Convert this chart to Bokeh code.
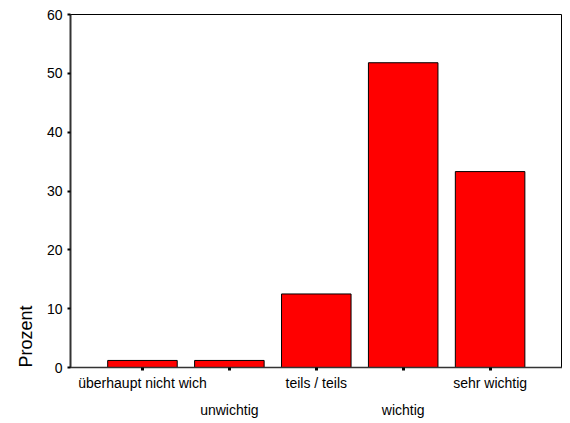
from bokeh.plotting import figure
from bokeh.models import Range1d, FixedTicker, LinearAxis, ColumnDataSource, Title
from bokeh.embed import file_html
from bokeh.resources import INLINE

categories = ["überhaupt nicht wich", "unwichtig", "teils / teils", "wichtig", "sehr wichtig"]
values = [1.2, 1.2, 12.5, 51.8, 33.3]
y_ticks = [0, 10, 20, 30, 40, 50, 60]
y_title = "Prozent"

xs = list(range(len(categories)))
src = ColumnDataSource(dict(x=xs, top=values))

FONT = "Liberation Sans"

p = figure(width=562, height=420, output_backend="svg", toolbar_location=None,
           x_range=Range1d(-0.828, 4.833), y_range=Range1d(0, 60),
           min_border_left=70, min_border_right=0, min_border_top=14, min_border_bottom=5)
p.background_fill_color = "white"
p.border_fill_color = "white"
p.outline_line_color = "black"
p.outline_line_width = 1
p.xgrid.grid_line_color = None
p.ygrid.grid_line_color = None

p.vbar(x="x", top="top", width=0.8, bottom=0, source=src,
       fill_color="#FF0000", line_color="black", line_width=1)

# y axis
ya = p.yaxis[0]
ya.ticker = FixedTicker(ticks=y_ticks)
ya.axis_line_color = "#333333"
ya.axis_line_width = 2
ya.major_tick_out = 3
ya.major_tick_in = 0
ya.major_tick_line_width = 2
ya.major_tick_line_color = "black"
ya.minor_tick_line_color = None
ya.major_label_standoff = 5
ya.major_label_text_font = FONT
ya.major_label_text_font_size = "14px"
ya.major_label_text_color = "black"

# y title sits at the low end of the axis, as in the original
yt = Title(text=y_title, align="left", offset=0, standoff=16,
           text_font=FONT, text_font_size="18px", text_font_style="normal",
           text_color="black")
p.add_layout(yt, "left")

# x axis, first row of labels
xa = p.xaxis[0]
xa.ticker = FixedTicker(ticks=xs)
xa.major_label_overrides = {i: (categories[i] if i % 2 == 0 else "") for i in xs}
xa.axis_line_color = "#333333"
xa.axis_line_width = 1.5
xa.major_tick_out = 3
xa.major_tick_in = 0
xa.major_tick_line_width = 3
xa.major_tick_line_color = "black"
xa.minor_tick_line_color = None
xa.major_label_standoff = 4
xa.major_label_text_font = FONT
xa.major_label_text_font_size = "14px"
xa.major_label_text_color = "black"

# x axis, second (staggered) row of labels
xa2 = LinearAxis(ticker=FixedTicker(ticks=[i for i in xs if i % 2 == 1]))
xa2.major_label_overrides = {i: categories[i] for i in xs if i % 2 == 1}
xa2.axis_line_color = None
xa2.major_tick_line_color = None
xa2.major_tick_out = 0
xa2.major_tick_in = 0
xa2.minor_tick_line_color = None
xa2.major_label_standoff = 8
xa2.major_label_text_font = FONT
xa2.major_label_text_font_size = "14px"
xa2.major_label_text_color = "black"
p.add_layout(xa2, "below")

open("out.html", "w").write(file_html(p, INLINE))
